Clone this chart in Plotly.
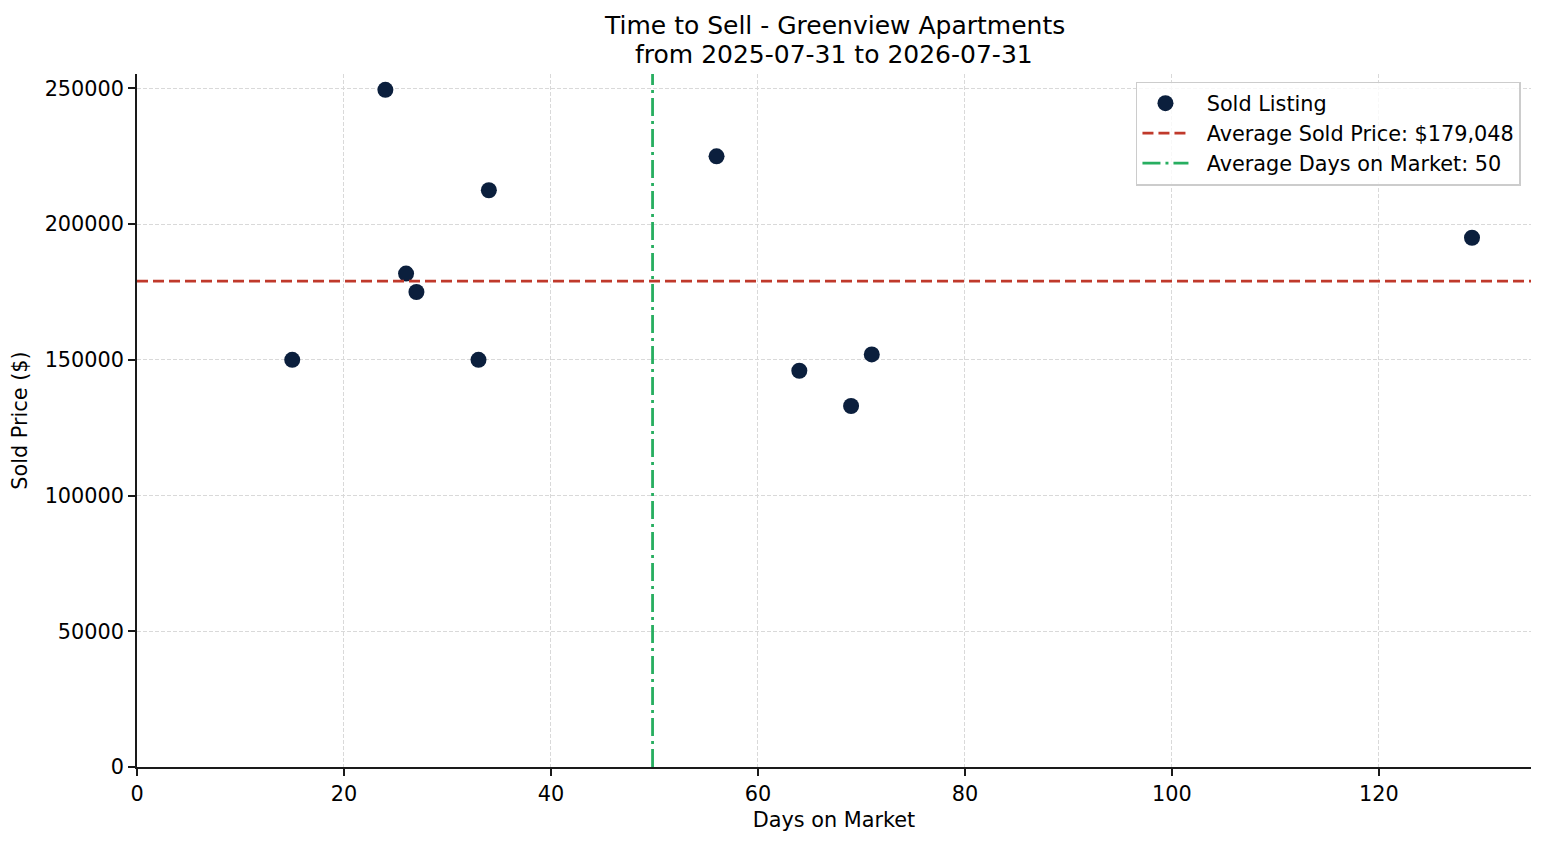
import plotly.graph_objects as go

# ---- data ----
days_on_market = [15, 24, 26, 27, 33, 34, 56, 64, 69, 71, 129]
sold_prices = [150000, 249500, 181800, 175000, 150000, 212500, 225000, 146000, 133000, 152000, 195000]
avg_sold_price = 179048
avg_days = sum(days_on_market) / len(days_on_market)

x_ticks = [0, 20, 40, 60, 80, 100, 120]
y_ticks = [0, 50000, 100000, 150000, 200000, 250000]

title_lines = ["Time to Sell - Greenview Apartments", "from 2025-07-31 to 2026-07-31"]

FONT = "DejaVu Sans"
FS = 20.8
NAVY = "#0b1f3d"
RED = "#c0392b"
GREEN = "#27ae60"
AXIS = "#1a1a1a"
PAD = "\u00a0\u00a0"  # gap between legend symbol and text

fig = go.Figure()
fig.add_trace(go.Scatter(
    x=days_on_market, y=sold_prices, mode="markers", name=PAD + "Sold Listing",
    marker=dict(color=NAVY, size=16, line=dict(width=0)),
))

fig.add_shape(type="line", xref="x domain", yref="y", x0=0, x1=1,
              y0=avg_sold_price, y1=avg_sold_price,
              line=dict(color=RED, width=2.8, dash="11px,5px"),
              showlegend=True, name=PAD + f"Average Sold Price: ${avg_sold_price:,.0f}")
fig.add_shape(type="line", xref="x", yref="y domain", x0=avg_days, x1=avg_days,
              y0=0, y1=1,
              line=dict(color=GREEN, width=2.8, dash="18px,5px,3px,5px"),
              showlegend=True, name=PAD + f"Average Days on Market: {round(avg_days)}")

axis_common = dict(
    showline=True, linecolor=AXIS, linewidth=1.6, mirror=False,
    ticks="outside", ticklen=7, tickwidth=1.6, tickcolor=AXIS,
    showgrid=True, gridcolor="#d9d9d9", gridwidth=1, griddash="4px,2px",
    zeroline=False,
    tickfont=dict(family=FONT, size=FS, color="black"),
)

fig.update_xaxes(
    range=[0, 134.7], tickvals=x_ticks, ticktext=[str(v) for v in x_ticks],
    title=dict(text="Days on Market", font=dict(family=FONT, size=FS, color="black"), standoff=8),
    **axis_common,
)
fig.update_yaxes(
    range=[0, 255325], tickvals=y_ticks, ticktext=[str(v) for v in y_ticks],
    title=dict(text="Sold Price ($)", font=dict(family=FONT, size=FS, color="black"), standoff=11),
    **axis_common,
)

# title lines as annotations for precise placement
for text, shift in zip(title_lines, [49, 20]):
    fig.add_annotation(text=text, xref="paper", yref="paper", x=0.5, y=1,
                       xanchor="center", yanchor="middle", yshift=shift, showarrow=False,
                       font=dict(family=FONT, size=25, color="black"))

fig.update_layout(
    width=1539, height=837,
    margin=dict(l=129, r=16, t=66, b=78),
    paper_bgcolor="white", plot_bgcolor="white",
    font=dict(family=FONT, size=FS, color="black"),
    legend=dict(x=0.9928, xanchor="right", y=0.989, yanchor="top",
                bgcolor="rgba(255,255,255,0.8)", bordercolor="#cccccc", borderwidth=1.5,
                font=dict(family=FONT, size=FS, color="black"),
                itemwidth=46),
    showlegend=True,
)

fig.write_html("out.html")
